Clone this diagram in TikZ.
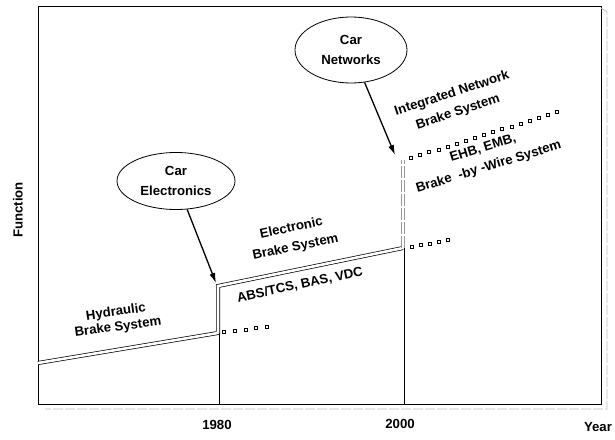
\documentclass[tikz,border=0pt]{standalone}
\usepackage{fontspec}
\setmainfont{Liberation Sans}
\usetikzlibrary{shapes.geometric,arrows.meta}
\begin{document}
\begin{tikzpicture}[x=1pt,y=-1pt,
  lbl/.style={font=\bfseries\fontsize{13.2}{19.5}\selectfont, align=center, inner sep=0pt},
  bubble/.style={draw, ellipse, line width=0.8pt, inner sep=0pt, lbl},
  trend/.style={draw, line width=0.7pt, double=white, double distance=2.6pt},
  tickline/.style={draw, line width=0.8pt},
  pointer/.style={draw, line width=1.3pt, -{Latex[length=10pt,width=6pt]}},
  sq/.style={draw, line width=0.6pt, minimum size=3pt, inner sep=0pt, rectangle}
]
\useasboundingbox (0,0) rectangle (615,439);

% chart frame with its offset shadow edge
\draw[line width=0.9pt] (38,6) rectangle (601,404);
\draw[gray!50, line width=0.7pt, dash pattern=on 10pt off 2pt] (601,8) -- (607,12) -- (607,409) -- (45,409);

% the development path
\coordinate (h0) at (38,363);
\coordinate (h1) at (218,333);
\coordinate (e0) at (218,286);
\coordinate (e1) at (403,248);
\coordinate (n0) at (403,160);
\draw[trend] (h0) -- (h1) -- (e0) -- (e1);
\draw[trend, draw=gray!80, dash pattern=on 12pt off 2pt] (e1) -- (n0);

% year markers
\coordinate (b80) at (219,404);
\coordinate (b00) at (404,404);
\draw[tickline] (219,333) -- (b80);
\draw[tickline] (404,248) -- (b00);

% continuation marks
\foreach \i in {0,...,4}
  \node[sq] at ({224+\i*10.75},{332-\i*1.25}) {};
\foreach \i in {0,...,4}
  \node[sq] at ({412+\i*9},{247-\i*1.75}) {};
\foreach \i in {0,...,16}
  \node[sq] at ({411+\i*9.125},{158-\i*2.875}) {};

% stage labels
\node[lbl, rotate=8, font=\bfseries\fontsize{13.2}{15}\selectfont] (hyd) at (117,320) {Hydraulic\\Brake System};
\node[lbl, rotate=12] (ebs) at (293.5,238) {Electronic\\Brake System};
\node[lbl, rotate=12] (abs) at (300,285) {ABS/TCS, BAS, VDC};
\node[lbl, rotate=18] (inbs) at (455,103) {Integrated Network\\Brake System};
\node[lbl, rotate=17] (bbw) at (486,158) {EHB, EMB,\\Brake\ \ -by -Wire System};

% drivers
\node[bubble, minimum width=118pt, minimum height=57pt] (ce) at (176,181) {Car\\Electronics};
\node[bubble, minimum width=112pt, minimum height=66pt] (cn) at (351,50) {Car\\Networks};
\coordinate (cetip) at (216,283);
\coordinate (cntip) at (395,155);
\draw[pointer] (ce) -- (cetip);
\draw[pointer] (cn) -- (cntip);

% axis labels
\node[lbl] (y80) at (217,425) {1980};
\node[lbl] (y00) at (400,424) {2000};
\node[lbl] (yr) at (598,427) {Year};
\node[lbl, rotate=90] (fn) at (18,210) {Function};
\end{tikzpicture}
\end{document}
